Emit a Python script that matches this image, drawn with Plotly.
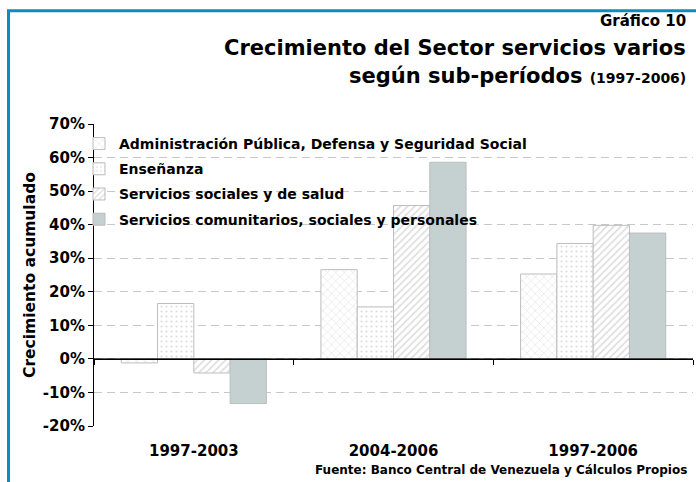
import plotly.graph_objects as go

periods = ["1997-2003", "2004-2006", "1997-2006"]
series_names = [
    "Administración Pública, Defensa y Seguridad Social",
    "Enseñanza",
    "Servicios sociales y de salud",
    "Servicios comunitarios, sociales y personales",
]
admin = [-1.2, 26.6, 25.3]
ensenanza = [16.5, 15.5, 34.4]
sociales = [-4.2, 45.7, 39.8]
comunitarios = [-13.3, 58.6, 37.5]
y_ticks = [-20, -10, 0, 10, 20, 30, 40, 50, 60, 70]
y_tick_labels = [f"{v}%" for v in y_ticks]

FONT = "DejaVu Sans, Verdana, sans-serif"
W, H = 696, 482
L, R, T, B = 94, 3, 124, 55.5
pw, ph = W - L - R, H - T - B

def px(x):
    return (x - L) / pw

def py(y):
    return (H - B - y) / ph

def bfont(size):
    return dict(family=FONT, size=size, color="black", weight="bold")

styles = [
    dict(shape="x", fg="#B0B0B0", bg="white", size=6, solidity=0.15),
    dict(shape=".", fg="#B8B8B8", bg="white", size=5, solidity=0.15),
    dict(shape="/", fg="#B8B8B8", bg="white", size=5, solidity=0.3),
    None,
]
values = [admin, ensenanza, sociales, comunitarios]

fig = go.Figure()
for i, (name, vals, st) in enumerate(zip(series_names, values, styles)):
    marker = dict(line=dict(color="#BDBDBD", width=1))
    if st is None:
        marker["color"] = "#C5D0D0"
    else:
        marker["color"] = st["bg"]
        marker["pattern"] = dict(shape=st["shape"], fgcolor=st["fg"], bgcolor=st["bg"],
                                 size=st["size"], solidity=st["solidity"])
    fig.add_trace(go.Bar(x=periods, y=vals, name=name, marker=marker,
                         legendgroup=f"g{i}"))

# invisible trace to carry bottom category labels
fig.add_trace(go.Scatter(x=periods, y=[None] * 3, xaxis="x2", showlegend=False,
                         hoverinfo="skip", mode="markers"))

fig.update_layout(
    width=W, height=H,
    margin=dict(l=L, r=R, t=T, b=B),
    paper_bgcolor="white", plot_bgcolor="white",
    font=bfont(14),
    barmode="group", bargap=0.273, bargroupgap=0,
    showlegend=True,
    legend=dict(x=px(79), y=py(128), xanchor="left", yanchor="top",
                bgcolor="rgba(0,0,0,0)", font=bfont(14),
                traceorder="grouped", tracegroupgap=4, itemwidth=30),
    xaxis=dict(type="category", anchor="free", position=py(359.3),
               showline=True, linecolor="black", linewidth=1,
               ticks="outside", tickson="boundaries", ticklen=5, tickcolor="black",
               showticklabels=False, showgrid=False, zeroline=False,
               range=[-0.5, 2.5]),
    xaxis2=dict(type="category", overlaying="x", anchor="y", side="bottom",
                matches="x", showline=False, ticks="", showgrid=False,
                tickfont=bfont(15), ticklabelstandoff=14),
    yaxis=dict(range=[-20, 70], tickvals=y_ticks, ticktext=y_tick_labels,
               showline=True, linecolor="black", linewidth=1,
               ticks="outside", ticklen=5, tickcolor="black",
               showgrid=True, gridcolor="#C8C8C8", gridwidth=1, griddash="8px,5px",
               zeroline=False, tickfont=bfont(15)),
)

# zero line
fig.add_shape(type="line", xref="paper", yref="y", x0=0, x1=1, y0=0, y1=0,
              line=dict(color="black", width=1))

# blue frame
fig.add_shape(type="rect", xref="paper", yref="paper",
              x0=px(8.5), y0=py(10.5), x1=px(710), y1=py(500),
              line=dict(color="#0B8DC4", width=3), layer="above")

ann = [
    dict(text="Gráfico 10", x=px(688), y=py(21), size=15),
    dict(text="Crecimiento del Sector servicios varios", x=px(688), y=py(48), size=21),
    dict(text="según sub-períodos <span style='font-size:14px'>(1997-2006)</span>",
         x=px(688), y=py(76), size=21),
    dict(text="Fuente: Banco Central de Venezuela y Cálculos Propios",
         x=px(689), y=py(471), size=12),
]
for a in ann:
    fig.add_annotation(text=a["text"], x=a["x"], y=a["y"], xref="paper", yref="paper",
                       xanchor="right", yanchor="middle", showarrow=False,
                       font=bfont(a["size"]))

fig.add_annotation(text="Crecimiento acumulado", x=px(30), y=0.5,
                   xref="paper", yref="paper", xanchor="center", yanchor="middle",
                   textangle=-90, showarrow=False, font=bfont(15.5))

fig.write_html("out.html", config={"displayModeBar": False},
               post_script="document.body.style.margin='0px';document.body.style.overflow='hidden';")
